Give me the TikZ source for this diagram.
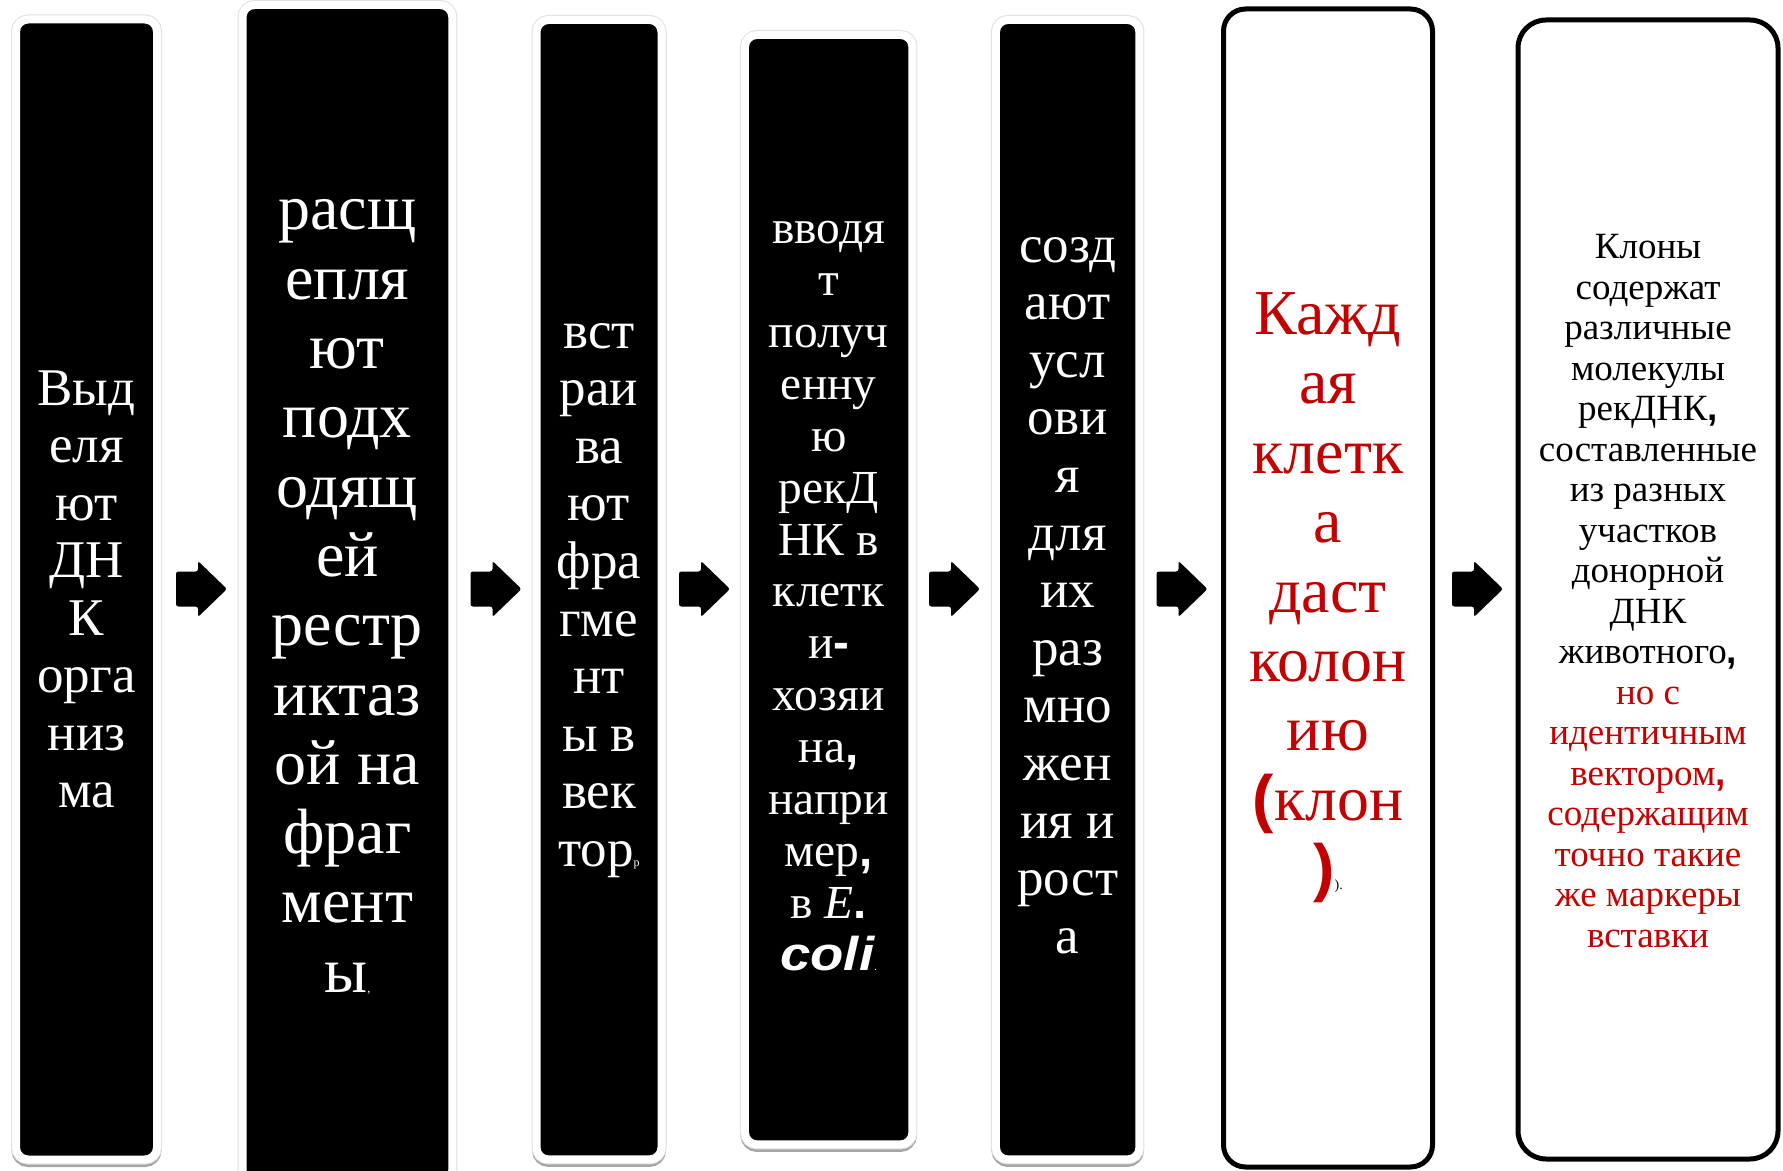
\documentclass[tikz,border=0pt]{standalone}
\usepackage{fontspec}
\setmainfont{Liberation Serif}
\newfontfamily\arsans{Liberation Sans}
\newfontfamily\arsanswide[FakeStretch=1.15]{Liberation Sans}
\usetikzlibrary{shadows}
\definecolor{dred}{RGB}{192,0,0}
\newcommand\bpunct[1]{{\arsans\bfseries #1}}
\newcommand\tinych[2][6]{{\fontsize{#1}{#1}\selectfont #2}}
\begin{document}
\begin{tikzpicture}[x=0.5pt,y=-0.5pt,
  blk/.style={fill=black, draw=white, line width=4pt, rounded corners=6pt,
    inner sep=0pt,
    drop shadow={shadow xshift=0pt, shadow yshift=-1.5pt, opacity=.35, fill=black, draw=black, line width=4.5pt},
    preaction={draw=black!12, line width=5pt}},
  wht/.style={fill=white, draw=black, line width=2.5pt, inner sep=0pt},
  wtxt/.style={text=white, align=center, inner sep=0pt},
  btxt/.style={text=black, align=center, inner sep=0pt},
  arrowfill/.style={fill=black, rounded corners=1.2pt}
]
\useasboundingbox (0,0) rectangle (1783,1171);
\fill[white] (0,0) rectangle (1783,1171);

% boxes
\node[blk, minimum width=70.5pt, minimum height=570pt] (b1) at (86.5,589.5) {};
\node[blk, minimum width=104.9pt, minimum height=588.5pt] (b2) at (347.4,593.5) {};
\node[blk, minimum width=62.5pt, minimum height=569.75pt] (b3) at (599,589.7) {};
\node[blk, minimum width=83.75pt, minimum height=554.75pt] (b4) at (828.7,589.7) {};
\node[blk, minimum width=71.75pt, minimum height=569.75pt] (b5) at (1067.7,589.7) {};
\node[wht, rounded corners=11pt, minimum width=104.5pt, minimum height=579pt] (b6) at (1328,588) {};
\node[wht, rounded corners=14pt, minimum width=130pt, minimum height=569.5pt] (b7) at (1648,589.5) {};

% texts
\node[wtxt, font=\fontsize{26.5}{28.75}\selectfont] (t1) at (b1.center)
  {Выд\\еля\\ют\\ДН\\К\\орга\\низ\\ма};

\node[wtxt, font=\fontsize{32}{34.65}\selectfont] (t2) at ([shift={(0,3.4)}]b2.center)
  {расщ\\епля\\ют\\подх\\одящ\\ей\\рестр\\иктаз\\ой на\\фраг\\мент\\ы\tinych{,}};

\node[wtxt, font=\fontsize{26.5}{28.8}\selectfont] (t3) at ([shift={(0,10.8)}]b3.center)
  {вст\\раи\\ва\\ют\\фра\\гме\\нт\\ы в\\век\\тор\tinych{р}};

\node[wtxt, font=\fontsize{23.7}{25.95}\selectfont] (t4) at ([shift={(0,6.3)}]b4.center)
  {вводя\\т\\получ\\енну\\ю\\рекД\\НК в\\клетк\\и\bpunct{-}\\хозяи\\на\bpunct{,}\\напри\\мер\bpunct{,}\\в \textit{E}\bpunct{.}\\{\arsanswide\bfseries\itshape coli}\tinych{.}};

\node[wtxt, font=\fontsize{26.5}{28.8}\selectfont] (t5) at ([shift={(0,5.7)}]b5.center)
  {созд\\ают\\усл\\ови\\я\\для\\их\\раз\\мно\\жен\\ия и\\рост\\а};

\node[btxt, text=dred, font=\fontsize{32}{34.7}\selectfont] (t6) at ([shift={(0,9.7)}]b6.center)
  {Кажд\\ая\\клетк\\а\\даст\\колон\\ию\\\bpunct{(}клон\\\bpunct{)}\tinych[7]{\textcolor{black}{).}}};

\node[btxt, font=\fontsize{18.5}{20.25}\selectfont] (t7) at ([shift={(0,1.7)}]b7.center)
  {Клоны\\содержат\\различные\\молекулы\\рекДНК\bpunct{,}\\составленные\\из разных\\участков\\донорной\\ДНК\\животного\bpunct{,}\\
   \textcolor{dred}{но с}\\\textcolor{dred}{идентичным}\\\textcolor{dred}{вектором\bpunct{,}}\\\textcolor{dred}{содержащим}\\\textcolor{dred}{точно такие}\\\textcolor{dred}{же маркеры}\\\textcolor{dred}{вставки}};

% block arrows between the boxes
\foreach \n/\x in {a1/201.5, a2/496, a3/704.5, a4/954.5, a5/1182, a6/1477.5} {
  \coordinate (\n) at (\x,589);
  \fill[arrowfill] ([shift={(-25.5,-17.5)}]\n) -- ++(22,0) -- ++(0,-10.5) -- ++(29,28)
     -- ++(-29,28) -- ++(0,-10.5) -- ++(-22,0) -- cycle;
}
\end{tikzpicture}
\end{document}
